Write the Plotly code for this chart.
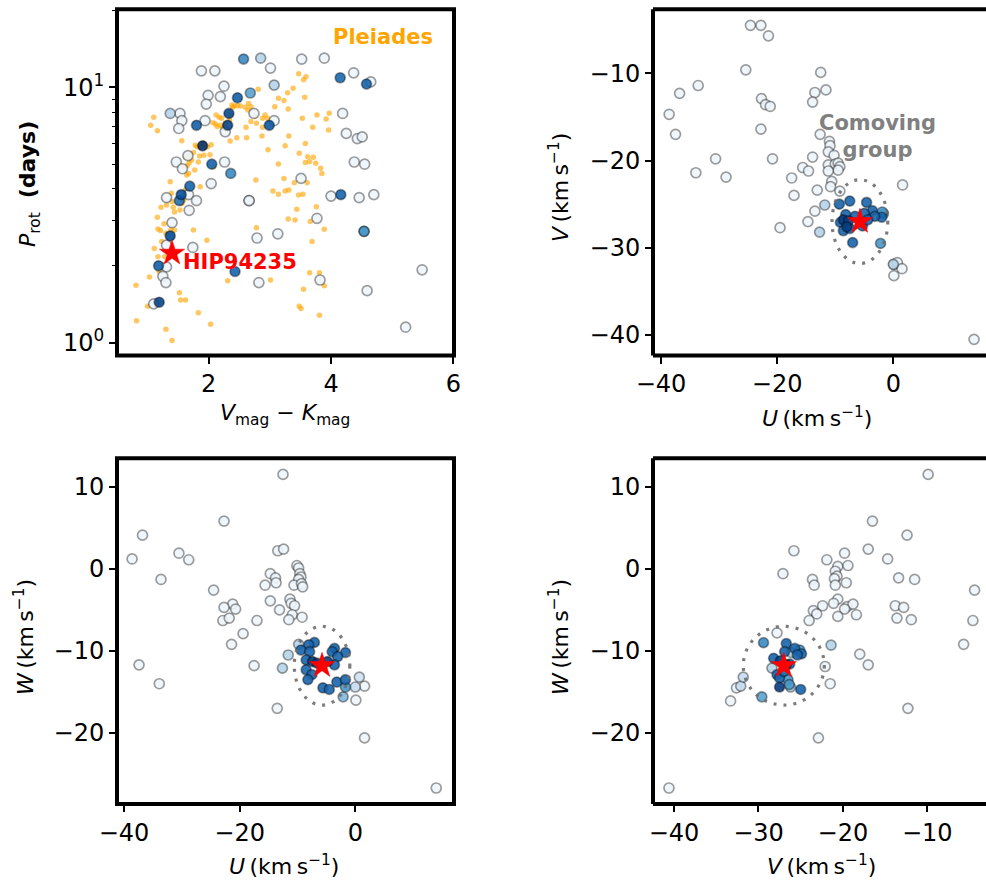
import numpy as np
import plotly.graph_objects as go

FONT = "DejaVu Sans"

# ---------------- data ----------------
# Panel 1: rotation period vs colour for candidate stars (membership value drives colour)
rot_vk = [2.57, 2.85, 3.52, 3.89, 1.88, 2.10, 3.01, 4.15, 4.37, 4.58,
          4.65, 3.07, 2.25, 1.99, 2.19, 1.96, 2.47, 2.68, 1.37, 1.53,
          1.56, 1.51, 2.33, 2.31, 2.74, 1.80, 1.94, 2.27, 2.99, 3.07,
          4.19, 4.25, 4.43, 4.51, 1.90, 1.66, 1.47, 1.57, 2.05, 2.26,
          2.36, 4.38, 4.55, 2.04, 3.51, 1.69, 1.55, 1.52, 1.67, 1.31,
          1.80, 1.68, 2.66, 2.66, 4.00, 4.16, 4.46, 4.70, 1.40, 3.77,
          4.54, 4.54, 1.37, 1.31, 2.79, 3.13, 1.74, 1.18, 1.31, 2.43,
          1.25, 1.30, 2.82, 3.82, 5.49, 4.59, 5.22, 1.10, 1.19]
rot_prot = [12.9, 13.0, 12.9, 13.0, 11.6, 11.6, 11.9, 10.9, 11.4, 10.3,
            10.5, 10.2, 10.1, 9.3, 9.2, 8.6, 9.1, 9.5, 7.9, 7.9,
            7.4, 6.9, 7.9, 7.1, 7.9, 7.1, 7.4, 6.7, 7.1, 7.4,
            7.9, 6.6, 6.3, 6.4, 5.9, 5.4, 5.1, 4.8, 5.0, 5.1,
            4.6, 5.1, 5.0, 4.2, 4.4, 4.1, 3.8, 3.6, 3.8, 3.7,
            3.6, 3.3, 3.6, 3.6, 3.75, 3.8, 3.7, 3.8, 2.95, 3.07,
            2.73, 2.73, 2.62, 2.41, 2.57, 2.67, 2.36, 2.00, 1.98, 1.90,
            1.82, 1.72, 1.72, 1.76, 1.93, 1.60, 1.15, 1.42, 1.44]
rot_memb = [0.65, 0.30, 0.05, 0.05, 0.05, 0.05, 0.05, 0.78, 0.05, 0.80,
            0.05, 0.30, 0.05, 0.05, 0.05, 0.05, 0.82, 0.55, 0.30, 0.05,
            0.05, 0.05, 0.90, 0.92, 0.05, 0.82, 0.05, 0.05, 0.85, 0.05,
            0.05, 0.05, 0.05, 0.05, 1.00, 0.05, 0.05, 0.05, 0.80, 0.05,
            0.65, 0.05, 0.05, 0.05, 0.05, 0.80, 0.88, 0.75, 0.05, 0.05,
            0.05, 0.05, 0.05, 0.05, 0.05, 0.80, 0.05, 0.05, 0.05, 0.05,
            0.60, 0.60, 0.90, 0.05, 0.05, 0.05, 0.05, 0.82, 0.05, 0.80,
            0.05, 0.05, 0.05, 0.05, 0.05, 0.05, 0.05, 0.05, 0.92]

# Pleiades reference sequence
pl_vk = [0.81, 0.82, 1.03, 1.00, 1.10, 1.05, 1.16, 1.17, 1.21, 1.22,
         1.16, 1.11, 1.17, 1.23, 1.28, 1.19, 1.30, 1.40, 1.37, 1.39,
         1.40, 1.42, 1.44, 1.31, 1.27, 1.30, 1.38, 1.44, 1.52, 1.54,
         1.62, 1.56, 1.53, 1.59, 1.62, 1.64, 1.67, 1.56, 1.60, 1.62,
         1.65, 1.68, 1.72, 1.69, 1.75, 1.78, 1.81, 1.85, 1.87, 1.92,
         1.83, 1.77, 1.86, 1.91, 1.98, 2.04, 2.02, 2.08, 2.12, 2.17,
         2.21, 2.07, 2.11, 2.14, 2.19, 2.23, 2.27, 2.34, 2.36, 2.39,
         2.42, 2.47, 2.52, 2.35, 2.46, 2.62, 2.60, 2.64, 2.69, 2.76,
         2.81, 2.69, 2.78, 2.88, 2.87, 2.61, 2.88, 2.92, 2.96, 2.97,
         3.08, 3.14, 3.23, 3.30, 3.29, 3.38, 3.47, 3.55, 3.59, 3.57,
         3.53, 3.31, 3.25, 3.14, 3.23, 3.25, 3.31, 3.05, 3.14, 3.40,
         3.48, 3.62, 3.58, 3.61, 3.47, 3.54, 3.70, 3.77, 3.92, 3.97,
         3.96, 3.71, 3.75, 3.83, 3.85, 3.65, 3.58, 3.76, 3.66, 3.69,
         3.89, 3.30, 3.41, 3.44, 2.77, 2.78, 3.01, 2.31, 1.97, 1.75,
         1.83, 2.03, 3.48, 3.51, 3.65, 3.81, 3.81, 3.89, 3.55, 2.65,
         2.38]
pl_prot = [1.68, 1.22, 1.81, 1.39, 7.63, 7.10, 6.76, 2.79, 2.75, 3.39,
           3.10, 2.34, 2.17, 2.49, 2.17, 1.90, 1.13, 1.02, 4.27, 3.85,
           3.57, 3.39, 3.25, 3.46, 2.92, 2.68, 2.76, 2.76, 1.57, 1.47,
           1.47, 3.51, 3.31, 3.62, 3.96, 4.54, 4.60, 6.18, 4.89, 5.35,
           4.93, 5.07, 5.19, 5.43, 5.56, 5.93, 5.85, 5.38, 5.85, 5.42,
           5.10, 4.74, 4.08, 6.04, 5.85, 5.96, 5.45, 4.89, 7.79, 7.63,
           7.56, 7.27, 7.18, 7.02, 7.11, 6.95, 7.23, 7.45, 7.79, 8.35,
           8.45, 8.47, 8.45, 6.17, 6.34, 6.35, 8.35, 8.15, 8.40, 7.72,
           9.82, 7.34, 7.23, 6.97, 6.45, 6.97, 7.56, 7.79, 7.56, 5.69,
           8.40, 9.06, 8.87, 8.22, 9.53, 9.91, 11.3, 10.7, 11.0, 9.14,
           7.56, 6.45, 5.91, 5.01, 4.40, 3.93, 3.96, 3.93, 3.81, 4.23,
           5.52, 5.35, 6.03, 4.23, 3.79, 3.81, 6.97, 7.79, 7.52, 7.91,
           6.81, 5.32, 5.04, 4.82, 4.60, 5.12, 5.08, 3.41, 2.98, 2.49,
           2.78, 3.05, 3.02, 3.33, 4.34, 2.82, 1.76, 1.75, 2.52, 2.76,
           1.31, 1.18, 1.39, 1.36, 1.88, 1.88, 1.28, 1.67, 1.62, 8.65,
           8.53]

# Panel 2: U-V plane
uv_U = [-24.6, -22.8, -21.5, -25.4, -12.5, -33.6, -36.8, -11.6, -13.5, -13.9,
        -22.7, -22.0, -21.2, -38.6, -37.5, -22.8, -12.6, -11.0, -10.9, -11.2,
        -10.2, -30.6, -20.8, -13.9, -34.0, -28.8, -15.6, -14.6, -11.2, -10.0,
        -9.5, -9.2, -9.5, -11.2, -17.5, -10.6, -10.8, 1.6, -17.1, -13.1,
        -9.2, -13.5, -14.7, -19.5, 0.1, 0.7, 1.5, 0.1, 13.9, -11.8,
        -12.7, 0.0,
        -9.3, -7.5, -4.6, -3.6, -1.7, -2.0, -3.2, -5.0, -8.6, -7.7,
        -9.1, -8.0, -8.6, -7.5, -5.3, -7.0, -2.2, -6.6, -4.4, -8.2, -1.9]
uv_V = [-4.5, -4.5, -5.7, -9.6, -9.9, -11.4, -12.3, -11.9, -12.2, -13.3,
        -12.9, -13.6, -13.8, -14.7, -17.0, -16.4, -17.0, -17.8, -18.3, -19.0,
        -19.4, -19.8, -19.8, -19.6, -21.4, -21.9, -20.8, -21.2, -20.5, -20.4,
        -20.3, -20.7, -21.1, -21.2, -22.0, -22.4, -23.0, -22.8, -24.0, -23.4,
        -23.5, -25.8, -27.0, -27.7, -31.9, -31.7, -32.4, -33.2, -40.5, -25.1,
        -28.2, -31.9,
        -25.0, -24.65, -24.8, -25.75, -26.1, -26.5, -26.4, -26.05, -26.8, -26.9,
        -27.1, -27.6, -28.05, -27.8, -27.5, -29.4, -29.5, -26.4, -26.8, -26.2, -25.9]
uv_memb = [0.05] * 49 + [0.3, 0.3, 0.3] + \
          [0.8, 0.8, 0.8, 0.8, 0.6, 0.8, 0.8, 0.8, 0.95, 0.95,
           0.8, 0.95, 0.8, 0.8, 0.8, 0.8, 0.6, 0.8, 0.8, 0.8, 0.6]

# Panel 3: U-W plane
uw_U = [-12.5, -22.7, -36.8, -38.6, -30.5, -28.8, -13.4, -12.4, -33.6, -10.1,
        -9.8, -9.6, -9.4, -9.8, -14.7, -13.8, -15.6, -13.7, -10.6, -9.3,
        -9.1, -24.5, -14.7, -11.3, -11.1, -10.5, -21.2, -22.7, -20.7, -13.1,
        -10.9, -9.2, -11.5, -22.9, -21.8, -17.0, -19.4, -21.4, -37.4, -17.5,
        -33.9, -13.5, 0.1, 1.6, 14.0, 1.6, 0.7, 0.0, -11.6, -12.6,
        -9.8, -2.1, -1.7,
        -7.07, -8.05, -9.4, -7.9, -3.6, -4.0, -1.7, -3.05, -8.5, -7.4,
        -4.8, -3.6, -8.5, -7.5, -8.2, -5.6, -4.5, -3.2, -1.7, -6.6]
uw_W = [11.5, 5.8, 4.1, 1.2, 1.9, 1.1, 2.2, 2.4, -1.3, 0.4,
        0.1, -0.6, -1.0, -1.3, -0.6, -1.1, -2.0, -1.7, -2.0, -1.8,
        -2.2, -2.6, -3.9, -3.7, -4.2, -4.5, -4.3, -4.7, -4.9, -5.0,
        -5.6, -5.9, -6.2, -6.3, -6.0, -6.3, -7.9, -9.2, -11.7, -11.8,
        -14.0, -17.0, -16.0, -20.6, -26.7, -14.3, -13.2, -14.4, -10.5, -12.1,
        -9.2, -15.6, -14.4,
        -8.97, -9.26, -9.9, -10.1, -9.7, -10.1, -10.2, -10.7, -11.1, -11.3,
        -11.3, -11.7, -12.3, -12.9, -13.5, -14.5, -14.7, -13.8, -13.5, -11.5]
uw_memb = [0.05] * 46 + [0.2, 0.25, 0.3, 0.3, 0.3, 0.45, 0.6] + \
          [0.8, 0.8, 0.8, 0.8, 0.8, 0.8, 0.8, 0.8, 0.8, 0.95,
           0.95, 0.8, 0.8, 0.8, 0.8, 0.8, 0.8, 0.8, 0.8, 0.95]

# Panel 4: V-W plane
vw_V = [-9.9, -16.5, -12.4, -14.7, -19.8, -21.9, -25.8, -17.0, -11.5, -13.4,
        -4.4, -4.6, -5.7, -27.1, -23.6, -23.4, -20.6, -20.9, -20.7, -21.0,
        -19.4, -19.6, -20.9, -20.6, -21.1, -19.5, -18.8, -19.8, -18.4, -22.4,
        -23.5, -23.1, -24.0, -20.6, -13.8, -12.8, -13.6, -11.9, -18.0, -17.0,
        -21.5, -22.9, -12.3, -40.6, -33.3, -27.8, -22.1, -32.6, -32.1, -31.8,
        -28.4, -21.4, -29.6,
        -29.4, -26.7, -25.7, -25.1, -24.9, -26.1, -26.9, -28.2, -26.7, -27.8,
        -27.5, -26.5, -26.35, -27.5, -26.2, -25.0, -27.4, -26.3, -27.0, -25.4]
vw_W = [11.5, 5.8, 4.1, 1.2, 1.9, 1.1, 2.2, 2.4, -1.3, -1.1,
        -2.6, -6.3, -9.2, -0.6, -1.3, -2.0, 0.3, -0.3, -0.9, -1.2,
        0.4, -1.7, -2.0, -3.7, -4.2, -4.6, -4.3, -4.9, -5.6, -4.5,
        -5.1, -5.5, -6.3, -5.8, -4.5, -4.7, -6.0, -6.2, -10.4, -11.7,
        -14.0, -20.6, -17.0, -26.7, -16.1, -7.8, -11.9, -14.5, -14.3, -13.2,
        -12.1, -9.3, -15.6,
        -9.0, -9.1, -9.7, -9.9, -10.35, -10.2, -10.1, -10.9, -11.7, -12.9,
        -13.3, -13.5, -14.1, -14.4, -14.4, -14.7, -11.2, -11.6, -12.5, -10.5]
vw_memb = [0.05] * 48 + [0.25, 0.25, 0.3, 0.3, 0.55] + \
          [0.65, 0.8, 0.8, 0.6, 0.8, 0.35, 0.8, 0.8, 0.95, 0.8,
           0.8, 0.6, 0.6, 0.95, 0.35, 0.8, 0.95, 0.8, 0.8, 0.8]

# HIP 94235
hip_vk, hip_prot = 1.40, 2.24
hip_U, hip_V, hip_W = -5.75, -27.0, -11.8
group_radius = 4.8  # km/s, comoving-group selection

# ---------------- helpers ----------------
BLUES_HEX = ["#f7fbff", "#deebf7", "#c6dbef", "#9ecae1", "#6baed6",
             "#4292c6", "#2171b5", "#08519c", "#08306b"]


def blues_rgba(vals, alpha=0.9):
    stops = np.linspace(0, 1, len(BLUES_HEX))
    rgb = np.array([[int(h[i:i + 2], 16) for i in (1, 3, 5)] for h in BLUES_HEX], float)
    out = []
    for v in vals:
        r, g, b = (np.interp(v, stops, rgb[:, k]) for k in range(3))
        out.append(f"rgba({r:.0f},{g:.0f},{b:.0f},{alpha})")
    return out


def members(x, y, m, xa, ya):
    order = np.argsort(np.array(m), kind="stable")
    xs = np.array(x)[order]
    ys = np.array(y)[order]
    ms = np.array(m)[order]
    return go.Scatter(x=xs, y=ys, mode="markers", xaxis=xa, yaxis=ya,
                      marker=dict(size=10, color=blues_rgba(ms),
                                  line=dict(color="rgba(0,0,0,0.38)", width=1.7)),
                      showlegend=False, hoverinfo="skip")


def hip_star(x, y, xa, ya):
    return go.Scatter(x=[x], y=[y], mode="markers", xaxis=xa, yaxis=ya,
                      marker=dict(symbol="star", size=19, color="red",
                                  line=dict(color="red", width=0.5)),
                      showlegend=False, hoverinfo="skip")


fig = go.Figure()
# panel 1
fig.add_trace(go.Scatter(x=pl_vk, y=pl_prot, mode="markers", xaxis="x", yaxis="y",
                         marker=dict(size=5.5, color="rgba(255,165,0,0.62)"),
                         showlegend=False, hoverinfo="skip"))
fig.add_trace(members(rot_vk, rot_prot, rot_memb, "x", "y"))
fig.add_trace(hip_star(hip_vk, hip_prot, "x", "y"))
# panel 2
fig.add_trace(members(uv_U, uv_V, uv_memb, "x2", "y2"))
fig.add_trace(hip_star(hip_U, hip_V, "x2", "y2"))
# panel 3
fig.add_trace(members(uw_U, uw_W, uw_memb, "x3", "y3"))
fig.add_trace(hip_star(hip_U, hip_W, "x3", "y3"))
# panel 4
fig.add_trace(members(vw_V, vw_W, vw_memb, "x4", "y4"))
fig.add_trace(hip_star(hip_V, hip_W, "x4", "y4"))

W_FIG, H_FIG = 986, 882
dom_L = [117 / W_FIG, 454 / W_FIG]
dom_R = [653 / W_FIG, 1.0]
dom_T = [1 - 355.5 / H_FIG, 1 - 9.3 / H_FIG]
dom_B = [1 - 804 / H_FIG, 1 - 458.3 / H_FIG]

tickfont = dict(family=FONT, size=24, color="black")
common = dict(showgrid=False, zeroline=False, showline=False, ticks="outside",
              ticklen=7, tickwidth=1.8, tickcolor="black", tickfont=tickfont,
              tickmode="array", fixedrange=True, automargin=False)


def neg(v):
    return str(v).replace("-", "\u2212")


def axis(domain, rng, anchor, vals, **kw):
    d = dict(common)
    d.update(domain=domain, range=rng, anchor=anchor, tickvals=vals,
             ticktext=[neg(v) for v in vals])
    d.update(kw)
    return d


layout = dict(
    width=W_FIG, height=H_FIG, autosize=False,
    margin=dict(l=0, r=0, t=0, b=0, autoexpand=False),
    paper_bgcolor="white", plot_bgcolor="white",
    font=dict(family=FONT, color="black"),
    xaxis=axis(dom_L, [0.50, 6.011], "y", [2, 4, 6]),
    yaxis=dict(common, domain=dom_T, type="log", range=[-0.0501, 1.3055], anchor="x",
               tickvals=[1, 10], ticktext=["10<sup>0</sup>", "10<sup>1</sup>"],
               minor=dict(tickmode="array", tickvals=[2, 3, 4, 5, 6, 7, 8, 9, 20],
                          ticks="outside", ticklen=4, tickwidth=1.3, tickcolor="black")),
    xaxis2=axis(dom_R, [-41.38, 15.96], "y2", [-40, -20, 0]),
    yaxis2=axis(dom_T, [-42.35, -2.663], "x2", [-40, -30, -20, -10]),
    xaxis3=axis(dom_L, [-41.21, 17.07], "y3", [-40, -20, 0]),
    yaxis3=axis(dom_B, [-28.65, 13.46], "x3", [-20, -10, 0, 10]),
    xaxis4=axis(dom_R, [-42.49, -3.05], "y4", [-40, -30, -20, -10]),
    yaxis4=axis(dom_B, [-28.65, 13.46], "x4", [-20, -10, 0, 10]),
)
fig.update_layout(**layout)

# frames (paper coordinates so they are not clipped)
frame = dict(color="black", width=4)
shapes = []
for dx, dy in [(dom_L, dom_T), (dom_L, dom_B)]:
    shapes.append(dict(type="rect", xref="paper", yref="paper", x0=dx[0], x1=dx[1],
                       y0=dy[0], y1=dy[1], line=frame, layer="above"))
for dx, dy in [(dom_R, dom_T), (dom_R, dom_B)]:
    shapes.append(dict(type="line", xref="paper", yref="paper", x0=dx[0], x1=dx[0],
                       y0=dy[0], y1=dy[1], line=frame, layer="above"))
    shapes.append(dict(type="line", xref="paper", yref="paper", x0=dx[0], x1=1.01,
                       y0=dy[1], y1=dy[1], line=frame, layer="above"))
    shapes.append(dict(type="line", xref="paper", yref="paper", x0=dx[0], x1=1.01,
                       y0=dy[0], y1=dy[0], line=frame, layer="above"))
# comoving-group selection circles
circ_line = dict(color="rgba(110,110,110,0.9)", width=3.2, dash="3px,7px")
for xr, yr, cx, cy in [("x2", "y2", hip_U, hip_V), ("x3", "y3", hip_U, hip_W),
                       ("x4", "y4", hip_V, hip_W)]:
    shapes.append(dict(type="circle", xref=xr, yref=yr,
                       x0=cx - group_radius, x1=cx + group_radius,
                       y0=cy - group_radius, y1=cy + group_radius,
                       line=circ_line, layer="above"))
fig.update_layout(shapes=shapes)

TS = 22
unit = "\u2009(km\u2009s<sup>\u22121</sup>)"
ann = []


def title(text, px, py, angle=0):
    ann.append(dict(text=text, xref="paper", yref="paper", x=px / W_FIG, y=1 - py / H_FIG,
                    xanchor="center", yanchor="middle", showarrow=False, textangle=angle,
                    font=dict(family=FONT, size=TS, color="black")))


title("<i>V</i><sub>mag</sub> \u2212 <i>K</i><sub>mag</sub>", 285, 414)
title("<i>P</i><sub>rot</sub>  <b>(days)</b>", 30, 184, -90)
title("<i>U</i>" + unit, 817, 417)
title("<i>V</i>" + unit, 559, 188, -90)
title("<i>U</i>" + unit, 284, 865)
title("<i>W</i>" + unit, 24, 637, -90)
title("<i>V</i>" + unit, 821, 865)
title("<i>W</i>" + unit, 559, 637, -90)

ann.append(dict(text="<b>Pleiades</b>", xref="x domain", yref="y domain", x=0.944, y=0.92,
                xanchor="right", yanchor="middle", showarrow=False,
                font=dict(family=FONT, size=21, color="orange")))
ann.append(dict(text="<b>HIP94235</b>", xref="x", yref="y", x=1.55, y=np.log10(2.07),
                xanchor="left", yanchor="middle", showarrow=False,
                font=dict(family=FONT, size=21, color="red")))
ann.append(dict(text="<b>Comoving<br>group</b>", xref="x2", yref="y2", x=-2.72, y=-17.3,
                xanchor="center", yanchor="middle", showarrow=False, align="center",
                font=dict(family=FONT, size=21, color="gray")))
fig.update_layout(annotations=ann)

fig.write_html("out.html", config={"displayModeBar": False})
